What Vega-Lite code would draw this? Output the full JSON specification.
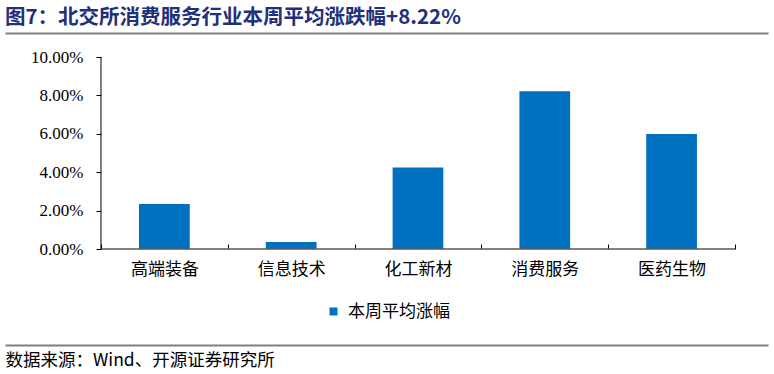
{
  "$schema": "https://vega.github.io/schema/vega-lite/v6.json",
  "autosize": {"type": "none"},
  "padding": {"left": 5, "top": 33, "right": 6, "bottom": 29},
  "width": 763,
  "height": 312,
  "background": "white",
  "config": {"view": {"stroke": null}, "font": "Noto Sans CJK SC"},
  "title": {
    "text": "图7：北交所消费服务行业本周平均涨跌幅+8.22%",
    "anchor": "start",
    "frame": "group",
    "orient": "top",
    "fontSize": 20.5,
    "fontWeight": "bold",
    "color": "#20307A",
    "font": "Noto Sans CJK SC",
    "offset": 5
  },
  "data": {
    "values": [
      {"industry": "高端装备", "value": 0.0234},
      {"industry": "信息技术", "value": 0.0036},
      {"industry": "化工新材", "value": 0.0425},
      {"industry": "消费服务", "value": 0.0822},
      {"industry": "医药生物", "value": 0.0599}
    ]
  },
  "resolve": {"axis": {"x": "independent", "y": "independent"}},
  "layer": [
    {
      "mark": {"type": "bar", "width": {"band": 0.4}},
      "encoding": {
        "x": {
          "field": "industry",
          "type": "nominal",
          "scale": {
            "domain": ["高端装备", "信息技术", "化工新材", "消费服务", "医药生物"],
            "paddingInner": 0,
            "paddingOuter": 0.5087,
            "align": 0.744
          },
          "axis": {
            "orient": "bottom",
            "offset": -96,
            "title": null,
            "labelAngle": 0,
            "domain": false,
            "tickBand": "extent",
            "tickSize": -5,
            "tickColor": "#000000",
            "labelPadding": 17,
            "labelFont": "Noto Sans CJK SC",
            "labelFontSize": 17,
            "labelColor": "#000000"
          }
        },
        "y": {
          "field": "value",
          "type": "quantitative",
          "scale": {"domain": [-0.05, 0.1125], "nice": false, "zero": false},
          "axis": {
            "orient": "left",
            "offset": -96,
            "values": [0, 0.02, 0.04, 0.06, 0.08, 0.1],
            "format": ".2%",
            "grid": false,
            "domain": false,
            "tickColor": "#000000",
            "tickSize": 5,
            "labelPadding": 13,
            "labelFont": "Liberation Serif",
            "labelFontSize": 17,
            "labelColor": "#000000",
            "title": null
          }
        },
        "y2": {"datum": 0},
        "color": {
          "datum": "本周平均涨幅",
          "scale": {"range": ["#0070C0"]},
          "legend": {
            "title": null,
            "orient": "none",
            "legendX": 320,
            "legendY": 270,
            "symbolType": "square",
            "symbolSize": 64,
            "symbolStrokeWidth": 0,
            "labelOffset": 6,
            "labelFont": "Noto Sans CJK SC",
            "labelFontSize": 17,
            "labelColor": "#000000"
          }
        }
      }
    },
    {
      "data": {"values": [{}]},
      "mark": {"type": "rule", "color": "#595959", "strokeWidth": 1.5},
      "encoding": {
        "x": {
          "datum": "高端装备",
          "type": "nominal",
          "bandPosition": 0,
          "axis": {
            "orient": "top",
            "title": null,
            "labels": false,
            "ticks": false,
            "domain": true,
            "domainColor": "#7f7f7f",
            "domainWidth": 2
          }
        },
        "x2": {"datum": "医药生物", "bandPosition": 1},
        "y": {"datum": 0, "type": "quantitative", "axis": null}
      }
    },
    {
      "data": {"values": [{}]},
      "mark": {"type": "rule", "color": "#000000", "strokeWidth": 1},
      "encoding": {
        "x": {
          "datum": "高端装备",
          "type": "nominal",
          "bandPosition": 0,
          "axis": {
            "orient": "bottom",
            "labels": false,
            "ticks": false,
            "domain": true,
            "domainColor": "#7f7f7f",
            "domainWidth": 2,
            "title": "数据来源：Wind、开源证券研究所",
            "titleAnchor": "start",
            "titleAlign": "left",
            "titleBaseline": "top",
            "titlePadding": 6,
            "titleFont": "Noto Sans CJK SC",
            "titleFontSize": 17.5,
            "titleFontWeight": "normal",
            "titleColor": "#000000"
          }
        },
        "y": {"datum": 0, "type": "quantitative", "axis": null},
        "y2": {"datum": 0.1}
      }
    }
  ]
}
